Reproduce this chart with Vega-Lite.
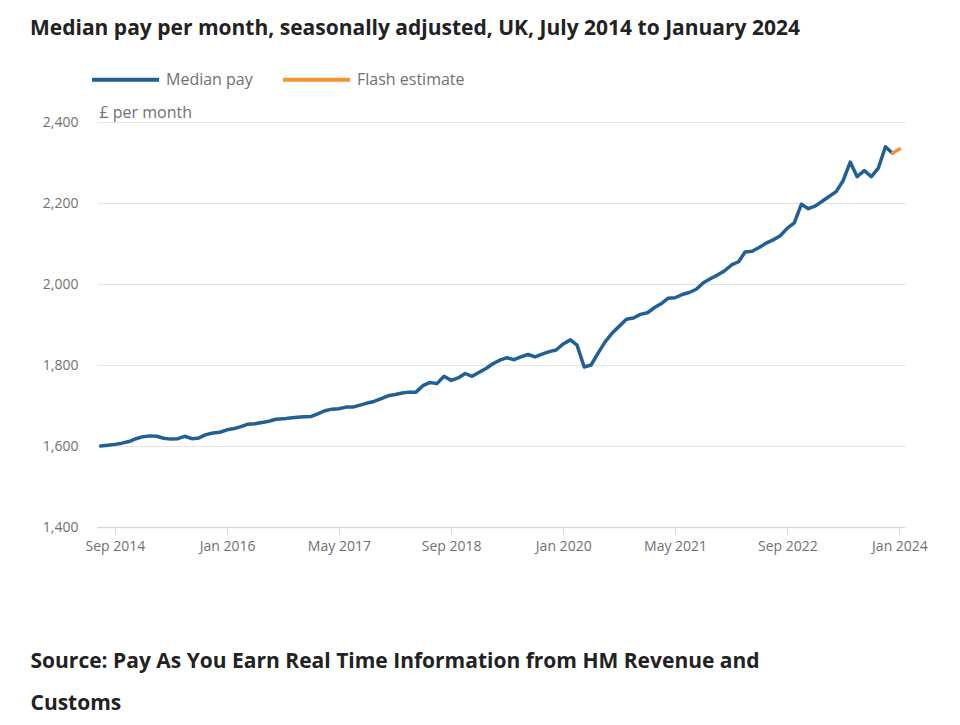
{
  "$schema": "https://vega.github.io/schema/vega-lite/v6.json",
  "width": 808,
  "height": 405,
  "autosize": {"type": "none"},
  "padding": {"left": 97, "top": 122, "right": 55, "bottom": 198},
  "background": "white",
  "config": {
    "font": "Open Sans",
    "view": {"stroke": null}
  },
  "title": {
    "text": "Median pay per month, seasonally adjusted, UK, July 2014 to January 2024",
    "anchor": "start",
    "frame": "group",
    "dx": -67,
    "fontSize": 21,
    "fontWeight": 700,
    "color": "#222222",
    "font": "Open Sans",
    "offset": 5
  },
  "data": {
    "values": [
      {"date": "2014-07-01", "pay": 1600, "series": "Median pay"},
      {"date": "2014-08-01", "pay": 1602, "series": "Median pay"},
      {"date": "2014-09-01", "pay": 1604, "series": "Median pay"},
      {"date": "2014-10-01", "pay": 1607, "series": "Median pay"},
      {"date": "2014-11-01", "pay": 1611, "series": "Median pay"},
      {"date": "2014-12-01", "pay": 1618, "series": "Median pay"},
      {"date": "2015-01-01", "pay": 1623, "series": "Median pay"},
      {"date": "2015-02-01", "pay": 1625, "series": "Median pay"},
      {"date": "2015-03-01", "pay": 1624, "series": "Median pay"},
      {"date": "2015-04-01", "pay": 1619, "series": "Median pay"},
      {"date": "2015-05-01", "pay": 1617, "series": "Median pay"},
      {"date": "2015-06-01", "pay": 1618, "series": "Median pay"},
      {"date": "2015-07-01", "pay": 1624, "series": "Median pay"},
      {"date": "2015-08-01", "pay": 1618, "series": "Median pay"},
      {"date": "2015-09-01", "pay": 1620, "series": "Median pay"},
      {"date": "2015-10-01", "pay": 1628, "series": "Median pay"},
      {"date": "2015-11-01", "pay": 1632, "series": "Median pay"},
      {"date": "2015-12-01", "pay": 1634, "series": "Median pay"},
      {"date": "2016-01-01", "pay": 1640, "series": "Median pay"},
      {"date": "2016-02-01", "pay": 1643, "series": "Median pay"},
      {"date": "2016-03-01", "pay": 1648, "series": "Median pay"},
      {"date": "2016-04-01", "pay": 1654, "series": "Median pay"},
      {"date": "2016-05-01", "pay": 1655, "series": "Median pay"},
      {"date": "2016-06-01", "pay": 1658, "series": "Median pay"},
      {"date": "2016-07-01", "pay": 1661, "series": "Median pay"},
      {"date": "2016-08-01", "pay": 1666, "series": "Median pay"},
      {"date": "2016-09-01", "pay": 1667, "series": "Median pay"},
      {"date": "2016-10-01", "pay": 1669, "series": "Median pay"},
      {"date": "2016-11-01", "pay": 1671, "series": "Median pay"},
      {"date": "2016-12-01", "pay": 1672, "series": "Median pay"},
      {"date": "2017-01-01", "pay": 1673, "series": "Median pay"},
      {"date": "2017-02-01", "pay": 1680, "series": "Median pay"},
      {"date": "2017-03-01", "pay": 1687, "series": "Median pay"},
      {"date": "2017-04-01", "pay": 1691, "series": "Median pay"},
      {"date": "2017-05-01", "pay": 1692, "series": "Median pay"},
      {"date": "2017-06-01", "pay": 1696, "series": "Median pay"},
      {"date": "2017-07-01", "pay": 1696, "series": "Median pay"},
      {"date": "2017-08-01", "pay": 1701, "series": "Median pay"},
      {"date": "2017-09-01", "pay": 1706, "series": "Median pay"},
      {"date": "2017-10-01", "pay": 1710, "series": "Median pay"},
      {"date": "2017-11-01", "pay": 1717, "series": "Median pay"},
      {"date": "2017-12-01", "pay": 1724, "series": "Median pay"},
      {"date": "2018-01-01", "pay": 1727, "series": "Median pay"},
      {"date": "2018-02-01", "pay": 1731, "series": "Median pay"},
      {"date": "2018-03-01", "pay": 1733, "series": "Median pay"},
      {"date": "2018-04-01", "pay": 1733, "series": "Median pay"},
      {"date": "2018-05-01", "pay": 1749, "series": "Median pay"},
      {"date": "2018-06-01", "pay": 1757, "series": "Median pay"},
      {"date": "2018-07-01", "pay": 1754, "series": "Median pay"},
      {"date": "2018-08-01", "pay": 1772, "series": "Median pay"},
      {"date": "2018-09-01", "pay": 1762, "series": "Median pay"},
      {"date": "2018-10-01", "pay": 1768, "series": "Median pay"},
      {"date": "2018-11-01", "pay": 1779, "series": "Median pay"},
      {"date": "2018-12-01", "pay": 1772, "series": "Median pay"},
      {"date": "2019-01-01", "pay": 1782, "series": "Median pay"},
      {"date": "2019-02-01", "pay": 1792, "series": "Median pay"},
      {"date": "2019-03-01", "pay": 1803, "series": "Median pay"},
      {"date": "2019-04-01", "pay": 1812, "series": "Median pay"},
      {"date": "2019-05-01", "pay": 1818, "series": "Median pay"},
      {"date": "2019-06-01", "pay": 1813, "series": "Median pay"},
      {"date": "2019-07-01", "pay": 1820, "series": "Median pay"},
      {"date": "2019-08-01", "pay": 1826, "series": "Median pay"},
      {"date": "2019-09-01", "pay": 1820, "series": "Median pay"},
      {"date": "2019-10-01", "pay": 1827, "series": "Median pay"},
      {"date": "2019-11-01", "pay": 1833, "series": "Median pay"},
      {"date": "2019-12-01", "pay": 1837, "series": "Median pay"},
      {"date": "2020-01-01", "pay": 1852, "series": "Median pay"},
      {"date": "2020-02-01", "pay": 1862, "series": "Median pay"},
      {"date": "2020-03-01", "pay": 1849, "series": "Median pay"},
      {"date": "2020-04-01", "pay": 1795, "series": "Median pay"},
      {"date": "2020-05-01", "pay": 1800, "series": "Median pay"},
      {"date": "2020-06-01", "pay": 1830, "series": "Median pay"},
      {"date": "2020-07-01", "pay": 1857, "series": "Median pay"},
      {"date": "2020-08-01", "pay": 1879, "series": "Median pay"},
      {"date": "2020-09-01", "pay": 1896, "series": "Median pay"},
      {"date": "2020-10-01", "pay": 1913, "series": "Median pay"},
      {"date": "2020-11-01", "pay": 1916, "series": "Median pay"},
      {"date": "2020-12-01", "pay": 1925, "series": "Median pay"},
      {"date": "2021-01-01", "pay": 1929, "series": "Median pay"},
      {"date": "2021-02-01", "pay": 1942, "series": "Median pay"},
      {"date": "2021-03-01", "pay": 1951, "series": "Median pay"},
      {"date": "2021-04-01", "pay": 1965, "series": "Median pay"},
      {"date": "2021-05-01", "pay": 1966, "series": "Median pay"},
      {"date": "2021-06-01", "pay": 1974, "series": "Median pay"},
      {"date": "2021-07-01", "pay": 1979, "series": "Median pay"},
      {"date": "2021-08-01", "pay": 1987, "series": "Median pay"},
      {"date": "2021-09-01", "pay": 2003, "series": "Median pay"},
      {"date": "2021-10-01", "pay": 2013, "series": "Median pay"},
      {"date": "2021-11-01", "pay": 2022, "series": "Median pay"},
      {"date": "2021-12-01", "pay": 2032, "series": "Median pay"},
      {"date": "2022-01-01", "pay": 2047, "series": "Median pay"},
      {"date": "2022-02-01", "pay": 2055, "series": "Median pay"},
      {"date": "2022-03-01", "pay": 2079, "series": "Median pay"},
      {"date": "2022-04-01", "pay": 2081, "series": "Median pay"},
      {"date": "2022-05-01", "pay": 2090, "series": "Median pay"},
      {"date": "2022-06-01", "pay": 2101, "series": "Median pay"},
      {"date": "2022-07-01", "pay": 2109, "series": "Median pay"},
      {"date": "2022-08-01", "pay": 2119, "series": "Median pay"},
      {"date": "2022-09-01", "pay": 2138, "series": "Median pay"},
      {"date": "2022-10-01", "pay": 2151, "series": "Median pay"},
      {"date": "2022-11-01", "pay": 2197, "series": "Median pay"},
      {"date": "2022-12-01", "pay": 2186, "series": "Median pay"},
      {"date": "2023-01-01", "pay": 2193, "series": "Median pay"},
      {"date": "2023-02-01", "pay": 2205, "series": "Median pay"},
      {"date": "2023-03-01", "pay": 2216, "series": "Median pay"},
      {"date": "2023-04-01", "pay": 2228, "series": "Median pay"},
      {"date": "2023-05-01", "pay": 2255, "series": "Median pay"},
      {"date": "2023-06-01", "pay": 2301, "series": "Median pay"},
      {"date": "2023-07-01", "pay": 2265, "series": "Median pay"},
      {"date": "2023-08-01", "pay": 2280, "series": "Median pay"},
      {"date": "2023-09-01", "pay": 2265, "series": "Median pay"},
      {"date": "2023-10-01", "pay": 2286, "series": "Median pay"},
      {"date": "2023-11-01", "pay": 2339, "series": "Median pay"},
      {"date": "2023-12-01", "pay": 2323, "series": "Median pay"},
      {"date": "2023-12-01", "pay": 2323, "series": "Flash estimate"},
      {"date": "2024-01-01", "pay": 2333, "series": "Flash estimate"}
    ]
  },
  "mark": {"type": "line", "strokeWidth": 3.5, "strokeJoin": "round", "strokeCap": "round"},
  "encoding": {
    "x": {
      "field": "date",
      "type": "temporal",
      "scale": {
        "domain": [
          {"year": 2014, "month": 6, "date": 15},
          {"year": 2024, "month": 1, "date": 25}
        ]
      },
      "axis": {
        "values": [
          {"year": 2014, "month": 9, "date": 1},
          {"year": 2016, "month": 1, "date": 1},
          {"year": 2017, "month": 5, "date": 1},
          {"year": 2018, "month": 9, "date": 1},
          {"year": 2020, "month": 1, "date": 1},
          {"year": 2021, "month": 5, "date": 1},
          {"year": 2022, "month": 9, "date": 1},
          {"year": 2024, "month": 1, "date": 1}
        ],
        "format": "%b %Y",
        "grid": false,
        "labelFontSize": 14,
        "labelColor": "#707070",
        "labelPadding": 5,
        "labelFont": "Open Sans",
        "tickColor": "#cfd8e6",
        "tickSize": 7,
        "tickWidth": 1,
        "domainColor": "#cfd8e6",
        "domainWidth": 1.5,
        "labelOverlap": false,
        "title": ["Source: Pay As You Earn Real Time Information from HM Revenue and", "Customs"],
        "titleFont": "Open Sans",
        "titleFontSize": 21,
        "titleFontWeight": 700,
        "titleColor": "#222222",
        "titleAlign": "left",
        "titleAnchor": "start",
        "titleBaseline": "alphabetic",
        "titleX": -67,
        "titleY": 140,
        "titleLineHeight": 42
      }
    },
    "y": {
      "field": "pay",
      "type": "quantitative",
      "scale": {"domain": [1400, 2400], "nice": false, "zero": false},
      "axis": {
        "values": [1400, 1600, 1800, 2000, 2200, 2400],
        "format": ",d",
        "domain": false,
        "ticks": false,
        "labelPadding": 19,
        "labelFontSize": 14,
        "labelColor": "#707070",
        "labelFont": "Open Sans",
        "gridColor": "#e4e4e4",
        "gridWidth": 1,
        "title": "£ per month",
        "titleFont": "Open Sans",
        "titleFontSize": 16,
        "titleFontWeight": 400,
        "titleColor": "#707070",
        "titleAngle": 0,
        "titleAlign": "left",
        "titleBaseline": "alphabetic",
        "titleX": 2,
        "titleY": -5
      }
    },
    "color": {
      "field": "series",
      "type": "nominal",
      "scale": {"domain": ["Median pay", "Flash estimate"], "range": ["#206095", "#F39431"]},
      "legend": {
        "title": null,
        "orient": "none",
        "direction": "horizontal",
        "legendX": -7,
        "legendY": -78,
        "symbolType": "stroke",
        "symbolStrokeWidth": 4,
        "symbolSize": 4489,
        "labelFontSize": 16,
        "labelColor": "#707070",
        "labelFont": "Open Sans",
        "labelOffset": 5,
        "columnPadding": 22
      }
    }
  }
}
